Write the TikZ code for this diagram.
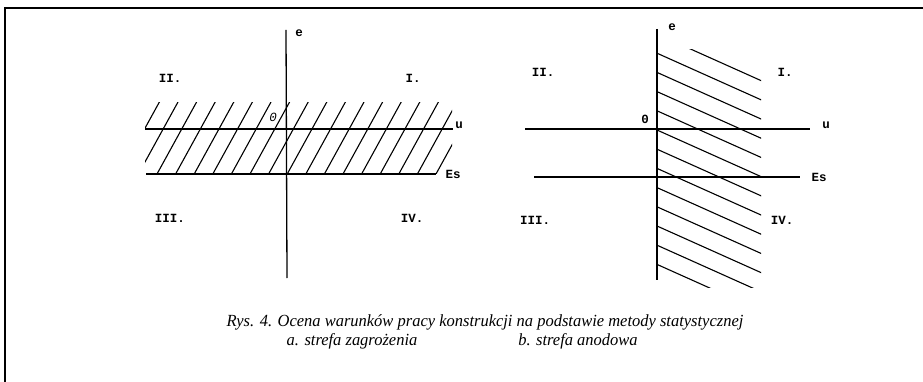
\documentclass[tikz,border=0pt]{standalone}
\usepackage{fontspec}
\setmainfont{Liberation Serif}
\newfontfamily\tw{Liberation Mono}
\begin{document}
\begin{tikzpicture}[x=1pt,y=-1pt,
  axisline/.style={line width=1.3pt},
  hatchline/.style={line width=1.1pt},
  framelin/.style={line width=1.6pt},
  lab/.style={font=\tw\bfseries\fontsize{12.5}{14}\selectfont, inner sep=0pt},
  capt/.style={font=\itshape\fontsize{17}{19}\selectfont, inner sep=0pt}]
\useasboundingbox (0,0) rectangle (923,382);
% frame (top and left edges only)
\coordinate (fl) at (5,382);
\coordinate (fc) at (5,8);
\coordinate (fr) at (923,8);
\draw[framelin] (fl) -- (fc) -- (fr);

% ---------- left panel ----------
\begin{scope}
\clip (145,103) rectangle (452,174);
\foreach \k in {-3,...,16}
  \draw[hatchline] ({157+18.6*\k-3.3},180) -- ({157+18.6*\k+42.9},96);
\end{scope}
\coordinate (Lea) at (286,30);
\coordinate (Leb) at (287,278);
\coordinate (Lua) at (145,129);
\coordinate (Lub) at (453,129);
\coordinate (Lsa) at (146,174);
\coordinate (Lsb) at (436,174);
\draw[axisline] (Lea) -- (Leb);
\draw[axisline] (Lua) -- (Lub);
\draw[axisline] (Lsa) -- (Lsb);
\node[lab] (Le) at (299,33) {e};
\node[lab] (Lu) at (459,125) {u};
\node[lab] (Ls) at (453,174) {Es};
\node[lab,font=\tw\itshape\fontsize{12.5}{14}\selectfont] (Lo) at (273,117) {0};
\node[lab] (L2) at (170,78) {II.};
\node[lab] (L1) at (413,78) {I.};
\node[lab] (L3) at (170,218) {III.};
\node[lab] (L4) at (412,218) {IV.};

% ---------- right panel ----------
\begin{scope}
\clip (657,50) rectangle (761,287);
\foreach \k in {0,...,12}
  \draw[hatchline] (657,{34+19.2*\k}) -- (770,{34+19.2*\k+0.448*113});
\end{scope}
\coordinate (Rea) at (657,29);
\coordinate (Reb) at (657,280);
\coordinate (Rua) at (525,129);
\coordinate (Rub) at (810,129);
\coordinate (Rsa) at (534,177);
\coordinate (Rsb) at (800,177);
\draw[axisline] (Rea) -- (Reb);
\draw[axisline] (Rua) -- (Rub);
\draw[axisline] (Rsa) -- (Rsb);
\node[lab] (Re) at (672,27) {e};
\node[lab] (Ru) at (826,125) {u};
\node[lab] (Rs) at (819,177) {Es};
\node[lab] (Ro) at (645,119) {0};
\node[lab] (R2) at (543,72) {II.};
\node[lab] (R1) at (785,72) {I.};
\node[lab] (R3) at (535,220) {III.};
\node[lab] (R4) at (782,220) {IV.};

% ---------- caption ----------
\node[capt] (c1) at (485,322) {\scalebox{0.97}[1]{Rys. 4. Ocena warunków pracy konstrukcji na podstawie metody statystycznej}};
\node[capt] (c2a) at (352,341) {\scalebox{0.97}[1]{a. strefa zagrożenia}};
\node[capt] (c2b) at (578,341) {\scalebox{0.97}[1]{b. strefa anodowa}};
\end{tikzpicture}
\end{document}
